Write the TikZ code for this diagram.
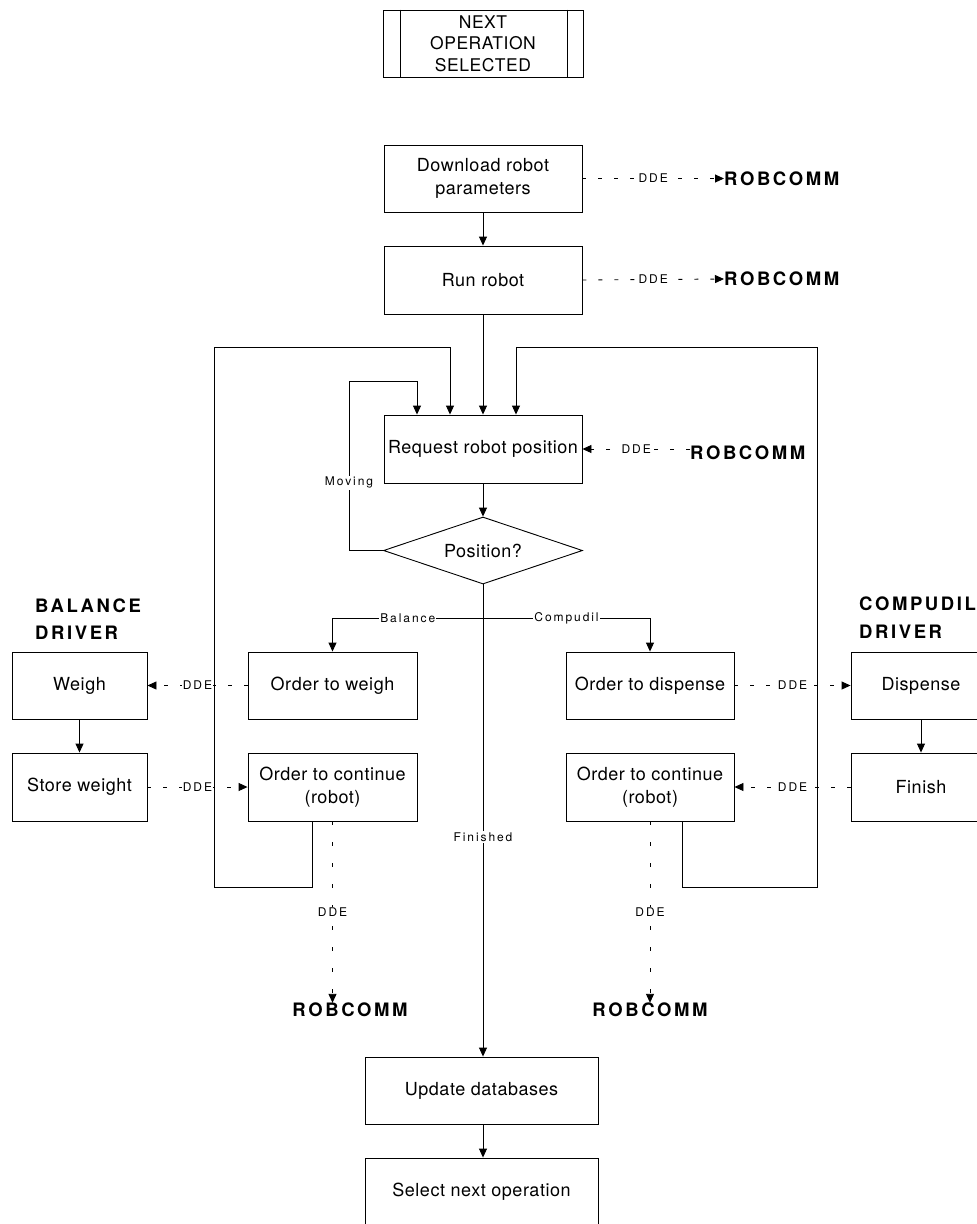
\documentclass[tikz,border=0pt]{standalone}
\usepackage{fontspec}
\setmainfont{TeX Gyre Heros}
\newfontfamily\boxfamily[LetterSpace=3]{TeX Gyre Heros}
\newfontfamily\tagfamily[LetterSpace=16]{TeX Gyre Heros}
\newfontfamily\headfamily[LetterSpace=14]{TeX Gyre Heros}
\usetikzlibrary{arrows.meta,shapes.geometric}

\tikzset{
  box/.style={draw, line width=0.9pt, inner sep=0pt, align=center,
    font=\boxfamily\fontsize{18}{23}\selectfont},
  flow/.style={line width=0.9pt, -{Triangle[length=9pt,width=8pt]}},
  plain/.style={line width=0.9pt},
  dde/.style={line width=0.9pt, dash pattern=on 4pt off 12pt,
    -{Triangle[length=9pt,width=8pt]}},
  link/.style={line width=0.9pt, dash pattern=on 4pt off 17pt,
    -{Triangle[length=9pt,width=8pt]}},
  tag/.style={fill=white, inner sep=1.2pt,
    font=\tagfamily\fontsize{12}{14}\selectfont},
  head/.style={inner sep=0pt, font=\headfamily\bfseries\fontsize{18.5}{27.5}\selectfont},
}

\begin{document}
\begin{tikzpicture}[x=1pt, y=-1pt]
\path[use as bounding box, clip] (0,0) rectangle (977,1224);

% start marker
\node[box, minimum width=200, minimum height=67,
  font=\boxfamily\fontsize{17.5}{21.5}\selectfont] (next) at (483,43.5)
  {NEXT\\OPERATION\\SELECTED};
\draw[plain] ([xshift=18pt]next.north west) -- ([xshift=18pt]next.south west);
\draw[plain] ([xshift=-16pt]next.north east) -- ([xshift=-16pt]next.south east);

% main column
\node[box, minimum width=198, minimum height=67] (dl) at (483,178.5) {Download robot\\parameters};
\node[box, minimum width=198, minimum height=68] (run) at (483,280) {Run robot};
\node[box, minimum width=198, minimum height=68] (req) at (483,449) {Request robot position};
\node[draw, diamond, aspect=2.97, line width=0.9pt, inner sep=0pt,
  minimum width=199, minimum height=67,
  font=\boxfamily\fontsize{18}{23}\selectfont] (pos) at (483,550.5) {Position?};

% balance branch
\node[box, minimum width=169, minimum height=67] (ow) at (332.5,685.5) {Order to weigh};
\node[box, minimum width=169, minimum height=68] (oc1) at (332.5,787) {Order to continue\\(robot)};
\node[box, minimum width=135, minimum height=67] (weigh) at (79.5,685.5) {Weigh};
\node[box, minimum width=135, minimum height=68] (store) at (79.5,787) {Store weight};

% compudil branch
\node[box, minimum width=168, minimum height=67] (od) at (650,685.5) {Order to dispense};
\node[box, minimum width=168, minimum height=68] (oc2) at (650,787) {Order to continue\\(robot)};
\node[box, minimum width=140, minimum height=67] (disp) at (921,685.5) {Dispense};
\node[box, minimum width=140, minimum height=68] (fin) at (921,787) {Finish};

% end of the cycle
\node[box, minimum width=233, minimum height=67] (upd) at (481.5,1090.5) {Update databases};
\node[box, minimum width=233, minimum height=67] (sel) at (481.5,1191.5) {Select next operation};

% driver headings and ROBCOMM targets
\node[head, anchor=west, align=left] (bal) at (35,619) {BALANCE\\DRIVER};
\node[head, anchor=west, align=left] (cmp) at (859,617.5) {COMPUDIL\\DRIVER};
\node[head, anchor=west] (rc1) at (724,178.5) {ROBCOMM};
\node[head, anchor=west] (rc2) at (724,279) {ROBCOMM};
\node[head, anchor=west] (rc3) at (690,453) {ROBCOMM};
\node[head] (rc4) at (350,1010) {ROBCOMM};
\node[head] (rc5) at (650,1010) {ROBCOMM};

% helper points for the loops
\coordinate (br) at (483,618);
\coordinate (mvT) at (349,381);
\coordinate (lpB) at (214,887);
\coordinate (lpT) at (214,347);
\coordinate (rpB) at (817,887);
\coordinate (rpT) at (817,347);
\coordinate (inA) at ([xshift=-66pt]req.north);
\coordinate (inB) at ([xshift=-33pt]req.north);
\coordinate (inD) at ([xshift=33pt]req.north);
\coordinate (outA) at ([xshift=-20.5pt]oc1.south);
\coordinate (outC) at ([xshift=32pt]oc2.south);

% loops back to the position request
\draw[flow] (outA) -- (outA |- lpB) -- (lpB) -- (lpT) -- (lpT -| inB) -- (inB);
\draw[flow] (outC) -- (outC |- rpB) -- (rpB) -- (rpT) -- (rpT -| inD) -- (inD);
\draw[flow] (pos.west) -- (pos.west -| mvT) -- node[tag, pos=0.4]{Moving} (mvT) -- (mvT -| inA) -- (inA);

% main flow
\draw[flow] (dl) -- (run);
\draw[flow] (run) -- (req);
\draw[flow] (req) -- (pos);
\draw[flow] (pos.south) -- node[tag, pos=0.535]{Finished} (pos.south |- upd.north);
\draw[flow] (br) -- node[tag]{Balance} (br -| ow.north) -- (ow.north);
\draw[flow] (br) -- node[tag]{Compudil} (br -| od.north) -- (od.north);
\draw[flow] (weigh) -- (store);
\draw[flow] (disp) -- (fin);
\draw[flow] (upd.south -| pos.south) -- (sel.north -| pos.south);

% DDE messages
\draw[dde] (dl.east) -- node[tag]{DDE} (rc1.west);
\draw[dde] (run.east) -- node[tag]{DDE} (rc2.west);
\draw[dde] (req.east -| rc3.west) -- node[tag]{DDE} (req.east);
\draw[dde] (ow.west) -- node[tag]{DDE} (weigh.east);
\draw[dde] (store.east) -- node[tag]{DDE} (oc1.west);
\draw[dde] (od.east) -- node[tag]{DDE} (disp.west);
\draw[dde] (fin.west) -- node[tag]{DDE} (oc2.east);
\draw[link] (oc1.south) -- node[tag]{DDE} (oc1.south |- rc4.north);
\draw[link] (oc2.south) -- node[tag]{DDE} (oc2.south |- rc5.north);
\end{tikzpicture}
\end{document}
